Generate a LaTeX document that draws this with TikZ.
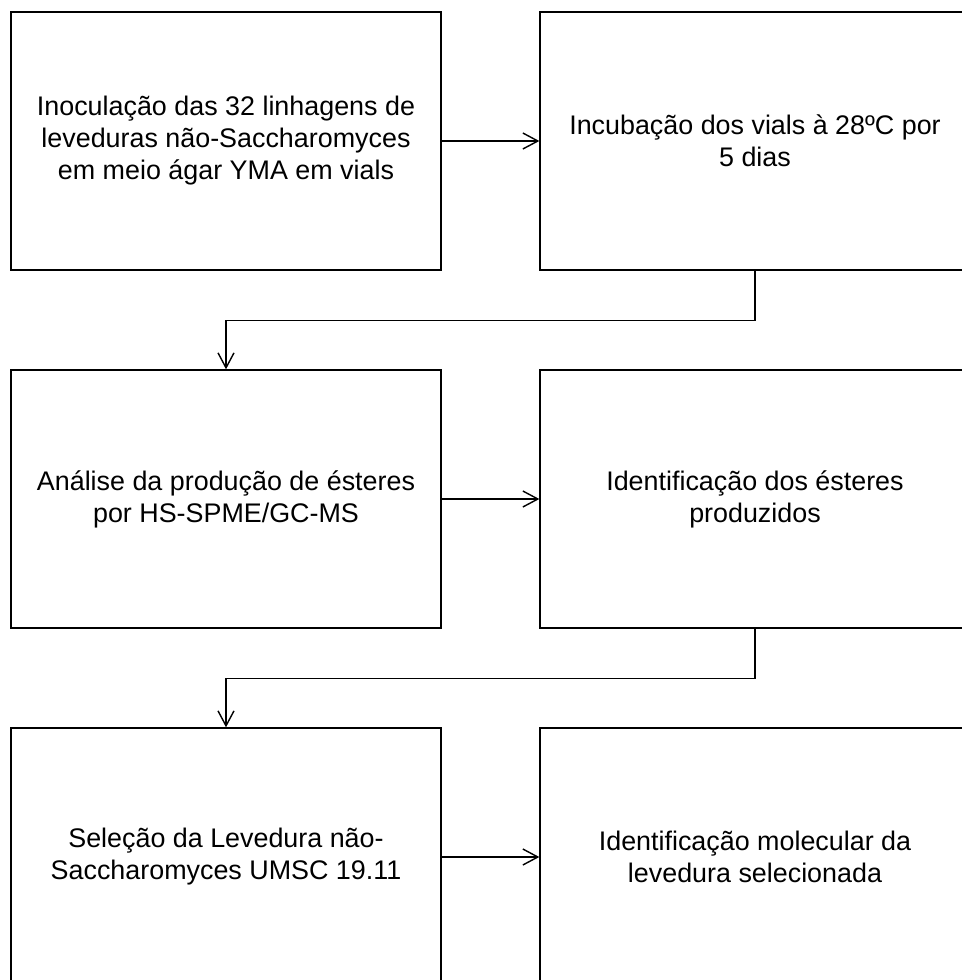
\documentclass[tikz,border=0pt]{standalone}
\usepackage{fontspec}
\setmainfont{Liberation Sans}
\usetikzlibrary{arrows.meta}

\begin{document}
\begin{tikzpicture}[x=0.02cm,y=-0.02cm,
  etapa/.style={draw,line width=0.8pt,minimum width=8.6cm,minimum height=5.16cm,
    align=center,inner sep=0pt,font=\fontsize{15.3}{18.2}\selectfont},
  seta/.style={line width=0.8pt,-{Straight Barb[length=3mm,width=3.2mm]}}]
\useasboundingbox (0,0) rectangle (962,980);
\node[etapa] (inoc) at (226,141) {Inoculação das 32 linhagens de\\leveduras não-Saccharomyces\\em meio ágar YMA em vials};
\node[etapa] (incub) at (755,141) {Incubação dos vials à 28ºC por\\5 dias};
\node[etapa] (anal) at (226,499) {Análise da produção de ésteres\\por HS-SPME/GC-MS};
\node[etapa] (ident) at (755,499) {Identificação dos ésteres\\produzidos};
\node[etapa] (selec) at (226,857) {Seleção da Levedura não-\\Saccharomyces UMSC 19.11};
\node[etapa] (molec) at (755,857) {Identificação molecular da\\levedura selecionada};
% ligacoes
\draw[seta] (inoc) -- (incub);
\draw[seta] (anal) -- (ident);
\draw[seta] (selec) -- (molec);
\draw[seta] (incub.south) -- ++(0,50) -| (anal.north);
\draw[seta] (ident.south) -- ++(0,50) -| (selec.north);
\end{tikzpicture}
\end{document}
